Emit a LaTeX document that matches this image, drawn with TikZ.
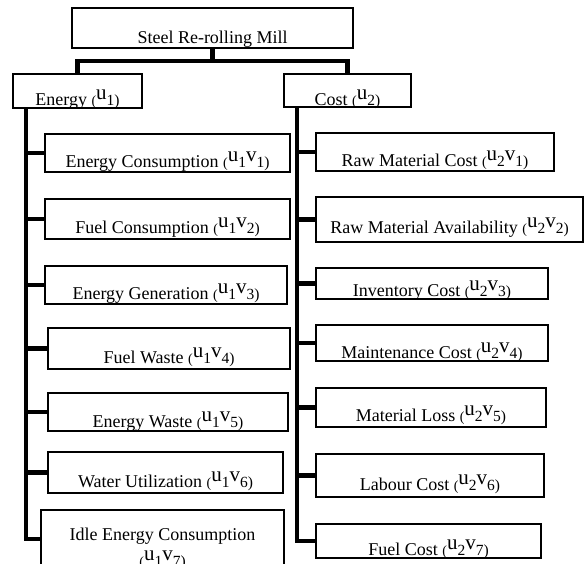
\documentclass[tikz,border=0pt]{standalone}
\usepackage{fontspec}
\setmainfont{Liberation Serif}

\newcommand{\ubig}{\raisebox{6pt}{\fontsize{21}{21}\selectfont u}}
\newcommand{\vbig}{\raisebox{6pt}{\fontsize{21}{21}\selectfont v}}
\newcommand{\dsub}[1]{{\fontsize{15.5}{15.5}\selectfont #1}}
\newcommand{\utag}[1]{{\fontsize{14}{14}\selectfont (}\ubig\dsub{#1)}}
\newcommand{\uvtag}[2]{{\fontsize{14}{14}\selectfont (}\ubig\dsub{#1}\vbig\dsub{#2)}}

\begin{document}
\begin{tikzpicture}[x=1pt,y=-1pt,
  box/.style={draw, line width=1.2pt, inner sep=0pt, outer sep=0pt, anchor=north west,
    font=\fontsize{18}{20}\selectfont},
  bar/.style={line width=4.5pt, line join=miter}]

\useasboundingbox (0,0) rectangle (584,563);
\clip (0,0) rectangle (584,563);

% top of the tree
\node [box, minimum width=281pt, text height=35pt, text depth=5pt]
  (mill) at (72,8) {Steel Re-rolling Mill};
\node [box, minimum width=129pt, text height=31pt, text depth=3pt] (energy) at (13,74) {Energy \utag{1}};
\node [box, minimum width=127pt, text height=31pt, text depth=2pt] (cost) at (284,74) {Cost \utag{2}};

% energy items
\node [box, minimum width=245pt, text height=33.3pt, text depth=4.7pt] (e1) at (45,134) {Energy Consumption \uvtag{1}{1}};
\node [box, minimum width=245pt, text height=34.3pt, text depth=5.7pt] (e2) at (45,199) {Fuel Consumption \uvtag{1}{2}};
\node [box, minimum width=242pt, text height=33.3pt, text depth=4.7pt] (e3) at (45,266) {Energy Generation \uvtag{1}{3}};
\node [box, minimum width=242pt, text height=35.3pt, text depth=5.7pt] (e4) at (48,328) {Fuel Waste \uvtag{1}{4}};
\node [box, minimum width=240pt, text height=34.3pt, text depth=3.7pt] (e5) at (48,393) {Energy Waste \uvtag{1}{5}};
\node [box, minimum width=235pt, text height=35pt, text depth=6pt] (e6) at (48,452) {Water Utilization \uvtag{1}{6}};
\node [box, minimum width=243pt, text height=30.5pt, text depth=27.5pt] (e7) at (41,510)
  {\smash{\begin{tabular}[t]{@{}c@{}}Idle Energy Consumption\\[4.5pt]\uvtag{1}{7}\end{tabular}}};

% cost items
\node [box, minimum width=238pt, text height=33pt, text depth=5pt] (c1) at (316,133) {Raw Material Cost \uvtag{2}{1}};
\node [box, minimum width=267pt, text height=36.3pt, text depth=8.7pt] (c2) at (316,197) {Raw Material Availability \uvtag{2}{2}};
\node [box, minimum width=232pt, text height=28.7pt, text depth=2.3pt] (c3) at (316,268) {Inventory Cost \uvtag{2}{3}};
\node [box, minimum width=232pt, text height=33.3pt, text depth=2.7pt] (c4) at (316,325) {Maintenance Cost \uvtag{2}{4}};
\node [box, minimum width=230pt, text height=33.7pt, text depth=5.3pt] (c5) at (316,388) {Material Loss \uvtag{2}{5}};
\node [box, minimum width=228pt, text height=36.7pt, text depth=6.3pt] (c6) at (316,454) {Labour Cost \uvtag{2}{6}};
\node [box, minimum width=225pt, text height=31pt, text depth=3pt] (c7) at (316,524) {Fuel Cost \uvtag{2}{7}};

% connectors
\coordinate (split) at ([yshift=-13pt]mill.south);
\draw [bar] (mill.south) -- (split) -| (energy.north);
\draw [bar] (split) -| (cost.north);

\coordinate (ltop) at ([xshift=13pt]energy.south west);
\draw [bar] (ltop) |- (e7.west);
\foreach \n in {e1,e2,e3,e4,e5,e6}
  \draw [bar] (\n.west -| ltop) -- (\n.west);

\coordinate (rtop) at ([xshift=13pt]cost.south west);
\draw [bar] (rtop) |- (c7.west);
\foreach \n in {c1,c2,c3,c4,c5,c6}
  \draw [bar] (\n.west -| rtop) -- (\n.west);

\end{tikzpicture}
\end{document}
